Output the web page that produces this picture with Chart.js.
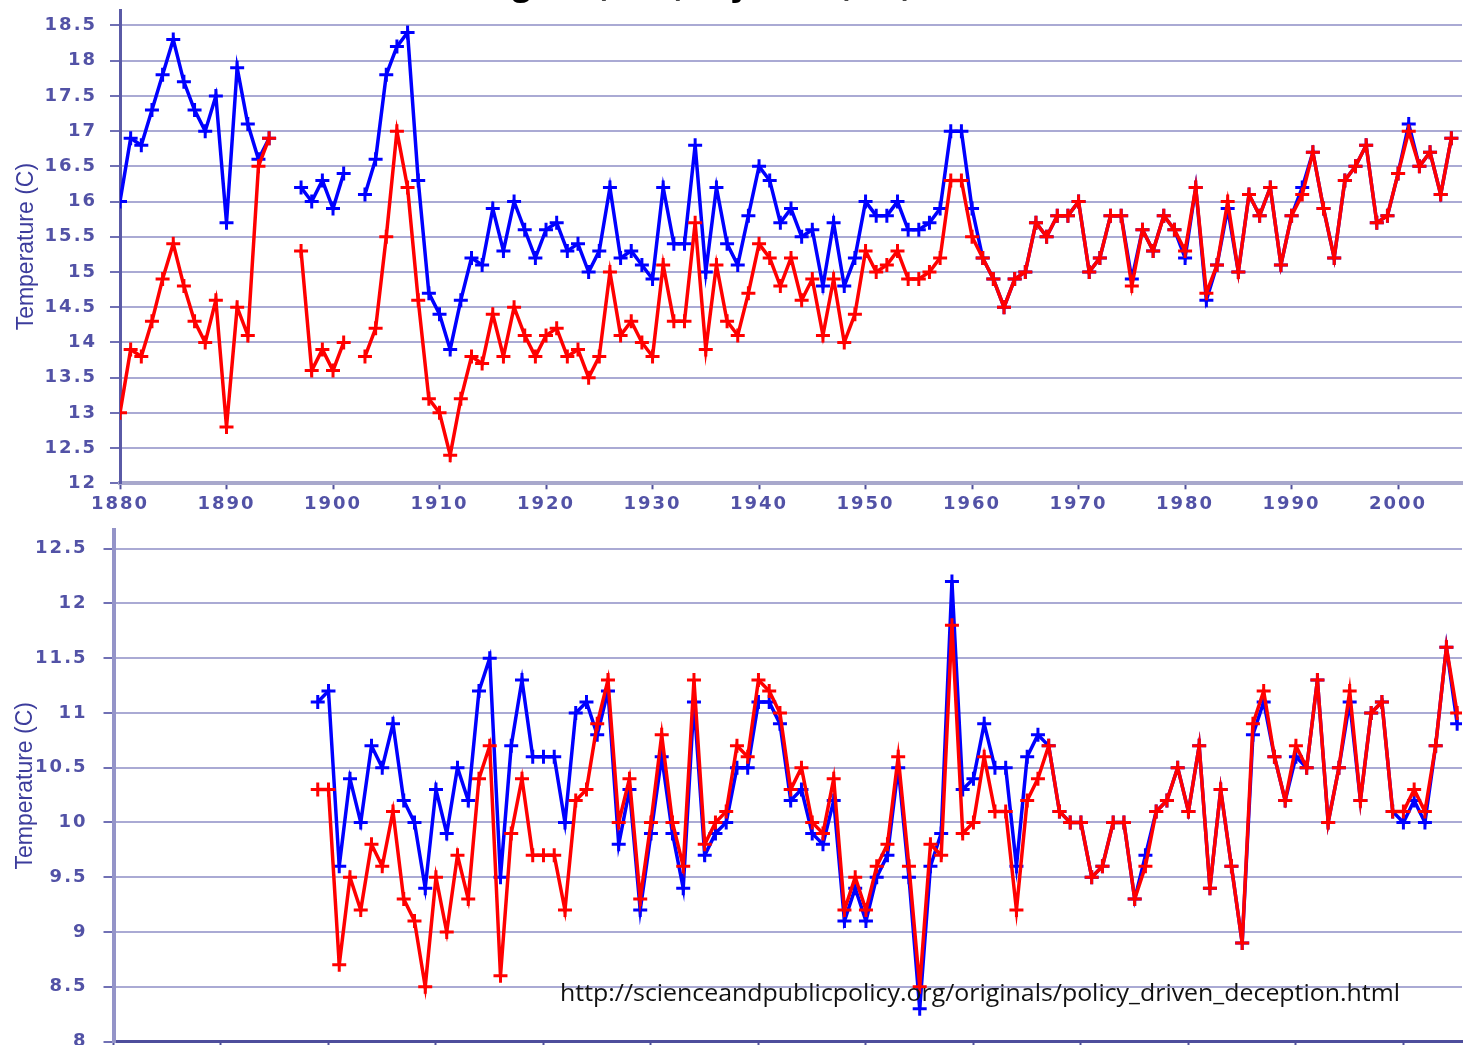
<!DOCTYPE html>
<html><head><meta charset="utf-8">
<script src="https://cdn.jsdelivr.net/npm/chart.js@4.4.1/dist/chart.umd.min.js"></script>
<style>
html,body{margin:0;padding:0;background:#fff;width:1472px;height:1045px;overflow:hidden;position:relative;}
canvas{position:absolute;left:0;}
#c1{top:0;}
#c2{top:520px;}
#title{position:absolute;top:-31px;right:560px;font:bold 31px "Open Sans",sans-serif;color:#000;white-space:nowrap;line-height:30px;z-index:5;}
#url{position:absolute;left:560px;top:981px;font:23px "Open Sans",sans-serif;color:#111;white-space:nowrap;line-height:23px;transform-origin:left top;z-index:5;}
</style></head>
<body>
<div id="title">Original (blue) Adjusted (red)</div>
<canvas id="c1" width="1472" height="520"></canvas>
<canvas id="c2" width="1472" height="580"></canvas>
<div id="url">http://scienceandpublicpolicy.org/originals/policy_driven_deception.html</div>
<script>
// ---------- data ----------
const topYears = [1880,1881,1882,1883,1884,1885,1886,1887,1888,1889,
1890,1891,1892,1893,1894,1895,1896,1897,1898,1899,
1900,1901,1902,1903,1904,1905,1906,1907,1908,1909,
1910,1911,1912,1913,1914,1915,1916,1917,1918,1919,
1920,1921,1922,1923,1924,1925,1926,1927,1928,1929,
1930,1931,1932,1933,1934,1935,1936,1937,1938,1939,
1940,1941,1942,1943,1944,1945,1946,1947,1948,1949,
1950,1951,1952,1953,1954,1955,1956,1957,1958,1959,
1960,1961,1962,1963,1964,1965,1966,1967,1968,1969,
1970,1971,1972,1973,1974,1975,1976,1977,1978,1979,
1980,1981,1982,1983,1984,1985,1986,1987,1988,1989,
1990,1991,1992,1993,1994,1995,1996,1997,1998,1999,
2000,2001,2002,2003,2004,2005];

const topBlue = [16.0,16.9,16.8,17.3,17.8,18.3,17.7,17.3,17.0,17.5,
15.7,17.9,17.1,16.6,16.9,null,null,16.2,16.0,16.3,
15.9,16.4,null,16.1,16.6,17.8,18.2,18.4,16.3,14.7,
14.4,13.9,14.6,15.2,15.1,15.9,15.3,16.0,15.6,15.2,
15.6,15.7,15.3,15.4,15.0,15.3,16.2,15.2,15.3,15.1,
14.9,16.2,15.4,15.4,16.8,15.0,16.2,15.4,15.1,15.8,
16.5,16.3,15.7,15.9,15.5,15.6,14.8,15.7,14.8,15.2,
16.0,15.8,15.8,16.0,15.6,15.6,15.7,15.9,17.0,17.0,
15.9,15.2,14.9,14.5,14.9,15.0,15.7,15.5,15.8,15.8,
16.0,15.0,15.2,15.8,15.8,14.9,15.6,15.3,15.8,15.6,
15.2,16.2,14.6,15.1,15.9,15.0,16.1,15.8,16.2,15.1,
15.8,16.2,16.7,15.9,15.2,16.3,16.5,16.8,15.7,15.8,
16.4,17.1,16.5,16.7,16.1,16.9];

const topRed = [13.0,13.9,13.8,14.3,14.9,15.4,14.8,14.3,14.0,14.6,
12.8,14.5,14.1,16.5,16.9,null,null,15.3,13.6,13.9,
13.6,14.0,null,13.8,14.2,15.5,17.0,16.2,14.6,13.2,
13.0,12.4,13.2,13.8,13.7,14.4,13.8,14.5,14.1,13.8,
14.1,14.2,13.8,13.9,13.5,13.8,15.0,14.1,14.3,14.0,
13.8,15.1,14.3,14.3,15.7,13.9,15.1,14.3,14.1,14.7,
15.4,15.2,14.8,15.2,14.6,14.9,14.1,14.9,14.0,14.4,
15.3,15.0,15.1,15.3,14.9,14.9,15.0,15.2,16.3,16.3,
15.5,15.2,14.9,14.5,14.9,15.0,15.7,15.5,15.8,15.8,
16.0,15.0,15.2,15.8,15.8,14.8,15.6,15.3,15.8,15.6,
15.3,16.2,14.7,15.1,16.0,15.0,16.1,15.8,16.2,15.1,
15.8,16.1,16.7,15.9,15.2,16.3,16.5,16.8,15.7,15.8,
16.4,17.0,16.5,16.7,16.1,16.9];

const bottomYears = [1899,
1900,1901,1902,1903,1904,1905,1906,1907,1908,1909,
1910,1911,1912,1913,1914,1915,1916,1917,1918,1919,
1920,1921,1922,1923,1924,1925,1926,1927,1928,1929,
1930,1931,1932,1933,1934,1935,1936,1937,1938,1939,
1940,1941,1942,1943,1944,1945,1946,1947,1948,1949,
1950,1951,1952,1953,1954,1955,1956,1957,1958,1959,
1960,1961,1962,1963,1964,1965,1966,1967,1968,1969,
1970,1971,1972,1973,1974,1975,1976,1977,1978,1979,
1980,1981,1982,1983,1984,1985,1986,1987,1988,1989,
1990,1991,1992,1993,1994,1995,1996,1997,1998,1999,
2000,2001,2002,2003,2004,2005];

const bottomBlue = [11.1,
11.2,9.6,10.4,10.0,10.7,10.5,10.9,10.2,10.0,9.4,
10.3,9.9,10.5,10.2,11.2,11.5,9.5,10.7,11.3,10.6,
10.6,10.6,10.0,11.0,11.1,10.8,11.2,9.8,10.3,9.2,
9.9,10.6,9.9,9.4,11.1,9.7,9.9,10.0,10.5,10.5,
11.1,11.1,10.9,10.2,10.3,9.9,9.8,10.2,9.1,9.4,
9.1,9.5,9.7,10.5,9.5,8.3,9.6,9.9,12.2,10.3,
10.4,10.9,10.5,10.5,9.6,10.6,10.8,10.7,10.1,10.0,
10.0,9.5,9.6,10.0,10.0,9.3,9.7,10.1,10.2,10.5,
10.1,10.7,9.4,10.3,9.6,8.9,10.8,11.1,10.6,10.2,
10.6,10.5,11.3,10.0,10.5,11.1,10.2,11.0,11.1,10.1,
10.0,10.2,10.0,10.7,11.6,10.9];

const bottomRed = [10.3,
10.3,8.7,9.5,9.2,9.8,9.6,10.1,9.3,9.1,8.5,
9.5,9.0,9.7,9.3,10.4,10.7,8.6,9.9,10.4,9.7,
9.7,9.7,9.2,10.2,10.3,10.9,11.3,10.0,10.4,9.3,
10.0,10.8,10.0,9.6,11.3,9.8,10.0,10.1,10.7,10.6,
11.3,11.2,11.0,10.3,10.5,10.0,9.9,10.4,9.2,9.5,
9.2,9.6,9.8,10.6,9.6,8.5,9.8,9.7,11.8,9.9,
10.0,10.6,10.1,10.1,9.2,10.2,10.4,10.7,10.1,10.0,
10.0,9.5,9.6,10.0,10.0,9.3,9.6,10.1,10.2,10.5,
10.1,10.7,9.4,10.3,9.6,8.9,10.9,11.2,10.6,10.2,
10.7,10.5,11.3,10.0,10.5,11.2,10.2,11.0,11.1,10.1,
10.1,10.3,10.1,10.7,11.6,11.0];

const topXTicks = [1880,1890,1900,1910,1920,1930,1940,1950,1960,1970,1980,1990,2000];
const topYTicks = [12,12.5,13,13.5,14,14.5,15,15.5,16,16.5,17,17.5,18,18.5];
const bottomXTicks = [1880,1890,1900,1910,1920,1930,1940,1950,1960,1970,1980,1990,2000];
const bottomYTicks = [8,8.5,9,9.5,10,10.5,11,11.5,12,12.5];
const yAxisTitle = 'Temperature (C)';

// ---------- helpers ----------
const tickFont = {family: 'DejaVu Sans', size: 18, weight: 'bold'};
const tickColor = '#5252a6';

const ytitlePlugin = {
  id: 'ytitle',
  beforeDraw(chart){ chart.ctx.letterSpacing = '2px'; },
  afterDraw(chart, args, opts){
    const ctx = chart.ctx;
    ctx.save();
    ctx.letterSpacing = '0px';
    ctx.font = '23px "Liberation Sans", Arial, sans-serif';
    ctx.fillStyle = '#3c3c9c';
    ctx.translate(opts.x, (chart.chartArea.top + chart.chartArea.bottom) / 2);
    ctx.rotate(-Math.PI / 2);
    ctx.textAlign = 'center';
    ctx.textBaseline = 'middle';
    ctx.fillText(opts.text, 0, 0);
    ctx.restore();
  }
};

function ds(label, xs, ys, color, order){
  return {
    label,
    data: xs.map((x, i) => ({x: x, y: ys[i]})),
    borderColor: color,
    backgroundColor: color,
    borderWidth: 3.5,
    pointStyle: 'cross',
    pointRadius: 7,
    pointBorderWidth: 3,
    pointBorderColor: color,
    pointHoverRadius: 7,
    spanGaps: false,
    tension: 0,
    order: order
  };
}

function makeChart(id, o){
  return new Chart(document.getElementById(id), {
    type: 'line',
    data: {datasets: [
      ds('Adjusted', o.years, o.red, '#ff0000', 0),
      ds('Original', o.years, o.blue, '#0000ff', 1)
    ]},
    options: {
      responsive: false,
      animation: false,
      devicePixelRatio: 1,
      layout: {padding: {top: o.padTop, left: 0, right: 0, bottom: 0}},
      plugins: {
        legend: {display: false},
        tooltip: {enabled: false},
        ytitle: {text: yAxisTitle, x: o.titleX}
      },
      scales: {
        x: {
          type: 'linear', min: o.xMin, max: o.xMax,
          afterBuildTicks: s => { s.ticks = o.xTicks.map(v => ({value: v})); },
          ticks: {callback: v => String(v), font: tickFont, color: tickColor, padding: 4, maxRotation: 0, autoSkip: false},
          grid: {drawOnChartArea: false, drawTicks: true, tickLength: 6, tickColor: '#50509c', tickWidth: 2},
          border: {color: o.xBorder, width: o.xBorderW},
          afterFit: s => { s.height = o.xHeight; s.paddingLeft = 0; s.paddingRight = 0; }
        },
        y: {
          min: o.yMin, max: o.yMax,
          afterBuildTicks: s => { s.ticks = o.yTicks.map(v => ({value: v})); },
          ticks: {callback: v => String(v), font: tickFont, color: tickColor, padding: o.yPad},
          grid: {color: '#aaaad4', lineWidth: 2, tickLength: 10, tickColor: '#7070b4', tickWidth: 2},
          border: {color: o.yBorder, width: o.yBorderW},
          afterFit: s => { s.width = o.yWidth; s.paddingTop = 0; s.paddingBottom = 0; }
        }
      }
    },
    plugins: [ytitlePlugin]
  });
}

makeChart('c1', {
  years: topYears, blue: topBlue, red: topRed,
  xMin: 1880, xMax: 2006, yMin: 12, yMax: 18.72,
  xTicks: topXTicks, yTicks: topYTicks,
  padTop: 7, xHeight: 36.7, yWidth: 120, yPad: 13, titleX: 27,
  xBorder: '#a8a8cc', xBorderW: 4, yBorder: '#5a5aa6', yBorderW: 3
});

makeChart('c2', {
  years: bottomYears, blue: bottomBlue, red: bottomRed,
  xMin: 1880, xMax: 2005.45, yMin: 8, yMax: 12.67,
  xTicks: bottomXTicks, yTicks: bottomYTicks,
  padTop: 5, xHeight: 58.5, yWidth: 113.5, yPad: 16, titleX: 26,
  xBorder: '#4e4e9c', xBorderW: 3, yBorder: '#9494c8', yBorderW: 4
});

// fit the source URL text to its width in the reference
const u = document.getElementById('url');
const w = u.getBoundingClientRect().width;
u.style.transform = 'scaleX(' + (840 / w) + ')';
</script>
</body></html>
